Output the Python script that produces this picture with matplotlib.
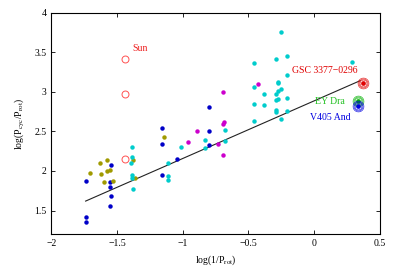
import numpy as np
import matplotlib
matplotlib.use("Agg")
import matplotlib.pyplot as plt

plt.rcParams['font.family'] = ['Liberation Serif', 'DejaVu Serif']
plt.rcParams['mathtext.fontset'] = 'stix'

# data: log(1/Prot), log(Pcyc/Prot)
blue_x = [-1.157, -1.157, -1.048, -1.157, -1.550, -1.738, -1.557, -1.557, -1.550,
          -1.557, -1.738, -1.738, -0.797, -0.797, -0.797]
blue_y = [2.546, 2.340, 2.151, 1.953, 2.076, 1.869, 1.865, 1.798, 1.689,
          1.562, 1.420, 1.361, 2.811, 2.508, 2.328]

olive_x = [-1.710, -1.633, -1.580, -1.624, -1.580, -1.557, -1.603, -1.530,
           -1.378, -1.363, -1.147]
olive_y = [1.979, 2.101, 2.134, 1.957, 1.995, 2.016, 1.865, 1.878,
           2.139, 1.916, 2.424]

cyan_x = [-1.388, -1.388, -1.393, -1.390, -1.390, -1.380, -1.017, -1.114, -1.112,
          -1.112, -0.830, -0.830, -0.678, -0.678, -0.455, -0.455, -0.455, -0.455,
          -0.384, -0.384, -0.293, -0.293, -0.293, -0.293, -0.293, -0.278, -0.276,
          -0.255, -0.255, -0.272, -0.278, -0.255, -0.207, -0.207, -0.207, -0.207,
          0.287]
cyan_y = [2.303, 2.171, 2.096, 1.945, 1.907, 1.768, 2.306, 2.096, 1.937,
          1.887, 2.395, 2.285, 2.517, 2.378, 3.366, 3.054, 2.840, 2.631,
          2.971, 2.839, 3.420, 2.968, 2.890, 2.770, 2.744, 3.126, 3.105,
          3.750, 3.032, 3.016, 2.905, 2.656, 3.456, 3.211, 2.916, 2.760,
          3.372]

magenta_x = [-0.964, -0.891, -0.734, -0.694, -0.688, -0.694, -0.694, -0.430]
magenta_y = [2.369, 2.499, 2.335, 2.991, 2.618, 2.588, 2.202, 3.101]

sun_x = [-1.437, -1.437, -1.437]
sun_y = [3.412, 2.975, 2.146]

fit_x = [-1.74, 0.35]
fit_y = [1.62, 3.14]

stars = ["GSC 3377\u22120296", "EY Dra", "V405 And"]
stars_x = [0.374, 0.333, 0.331]
stars_y = [3.105, 2.883, 2.815]
stars_col = ["#e00000", "#00b000", "#0000e0"]

fig = plt.figure(figsize=(3.99, 2.79), dpi=100)
ax = fig.add_axes([0.129, 0.160, 0.823, 0.795])

ax.plot(fit_x, fit_y, color="#222222", lw=0.8, zorder=1)

ms = 3.2
ax.plot(blue_x, blue_y, 'o', color="#0000c8", ms=ms, mec='none', zorder=3)
ax.plot(olive_x, olive_y, 'o', color="#a09a00", ms=ms, mec='none', zorder=3)
ax.plot(cyan_x, cyan_y, 'o', color="#00cccc", ms=ms, mec='none', zorder=3)
ax.plot(magenta_x, magenta_y, 'o', color="#cc00cc", ms=ms, mec='none', zorder=3)
ax.plot(sun_x, sun_y, 'o', mfc='none', mec="#ff5050", ms=5, mew=0.7, zorder=3)
ax.text(-1.385, 3.54, "Sun", color="#ee2020", fontsize=7, va='center')

for x, y, c in zip(stars_x, stars_y, stars_col):
    ax.plot(x, y, 'o', color=c, ms=3.4, mec='none', zorder=4)
    for s in (5.0, 6.4, 7.8):
        ax.plot(x, y, 'o', mfc='none', mec=c, ms=s, mew=0.4, zorder=4)

ax.text(0.08, 3.27, stars[0], color=stars_col[0], fontsize=7, ha='center', va='center')
ax.text(0.235, 2.88, stars[1], color="#20c020", fontsize=7, ha='right', va='center')
ax.text(0.28, 2.68, stars[2], color=stars_col[2], fontsize=7, ha='right', va='center')

ax.set_xlim(-2, 0.5)
ax.set_ylim(1.2, 4)
ax.set_xticks([-2, -1.5, -1, -0.5, 0, 0.5])
ax.set_yticks([1.5, 2, 2.5, 3, 3.5, 4])
ax.set_xticklabels(["\u22122", "\u22121.5", "\u22121", "\u22120.5", "0", "0.5"])
ax.set_yticklabels(["1.5", "2", "2.5", "3", "3.5", "4"])
ax.tick_params(direction='in', top=True, right=True, labelsize=7, length=3, width=0.6)
for sp in ax.spines.values():
    sp.set_linewidth(0.8)

ax.set_xlabel(r"log(1/P$_{\rm rot}$)", fontsize=7, labelpad=4)
ax.set_ylabel(r"log(P$_{\rm cyc}$/P$_{\rm rot}$)", fontsize=7, labelpad=6)

fig.savefig("out.png", dpi=100)
